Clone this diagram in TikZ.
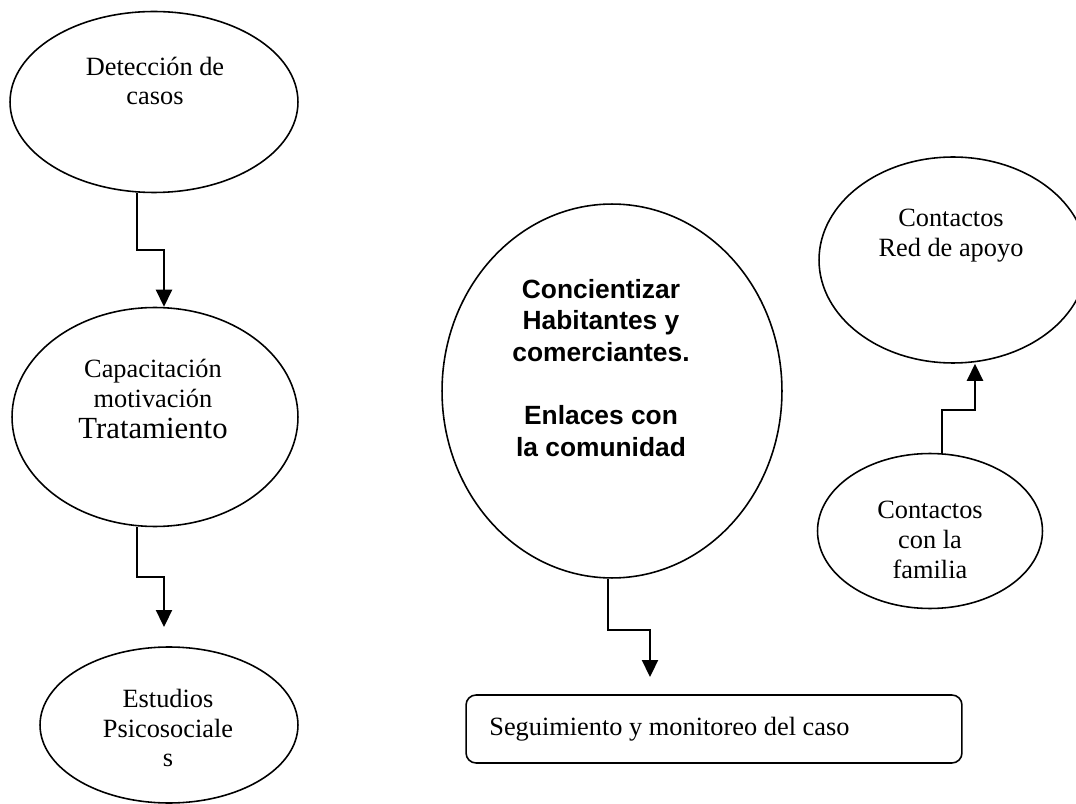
\documentclass[tikz,border=0pt]{standalone}
\usepackage{fontspec}
\setmainfont{Liberation Serif}
\newfontfamily\arialfont{Liberation Sans}
\usetikzlibrary{shapes.geometric, arrows.meta, calc, positioning}
\tikzset{
% ovals and boxes
oval/.style={ellipse, draw, line width=0.9pt, inner sep=0pt},
txt/.style={align=center, inner sep=0pt, font=\fontsize{15}{17}\selectfont},
boldtxt/.style={align=center, inner sep=0pt, font=\arialfont\bfseries\fontsize{15}{18}\selectfont},
% >=latex,
arr/.style={-{Triangle[width=0.32cm, length=0.34cm]}, line width=1.3pt},
}
\begin{document}
\begin{tikzpicture}[x=0.02cm, y=-0.02cm]
\useasboundingbox (0,0) rectangle (1076,804);
% Nodes
\node (e1) [oval, minimum width=5.76cm, minimum height=3.62cm] at (154,102) {};
\node (e2) [oval, minimum width=5.72cm, minimum height=4.38cm] at (155,417) {};
\node (e3) [oval, minimum width=5.16cm, minimum height=3.12cm] at (169,725) {};
\node (e4) [oval, minimum width=6.8cm, minimum height=7.48cm] at (612,391) {};
\node (e5) [oval, minimum width=5.36cm, minimum height=4.12cm] at (953,260) {};
\node (e6) [oval, minimum width=4.5cm, minimum height=3.1cm] at (930,531) {};
\node (box) [draw, rounded corners=0.2cm, line width=0.9pt, minimum width=9.92cm, minimum height=1.36cm] at (714,729) {};

\node (t1) [txt] at (155,81) {Detección de\\casos};
\node (t2) [txt] at (153,399) {Capacitación\\motivación\\[1pt]{\fontsize{17.5}{17}\selectfont Tratamiento}};
\node (t3) [txt] at (168,728) {Estudios\\Psicosociale\\s};
\node (t4) [boldtxt] at (601,368) {Concientizar\\Habitantes y\\comerciantes.\\[18pt]Enlaces con\\la comunidad};
\node (t5) [txt] at (951,236) {Contactos\\Red de apoyo};
\node (t6) [txt] at (930,540) {Contactos\\con la\\familia};
\node (t7) [txt, anchor=west] at (489,729) {Seguimiento y monitoreo del caso};

% Connectors
\draw [arr] ([xshift=-0.34cm]e1.south) |- (164,250) -- (164,0 |- e2.north);
\draw [arr] ([xshift=-0.36cm]e2.south) |- (164,577) -- (164,627);
\draw [arr] ([xshift=-0.08cm]e4.south) |- (650,630) -- (650,677);
\draw [arr] ([xshift=0.24cm]e6.north) |- (975,410) -- (975,0 |- e5.south);

\end{tikzpicture}
\end{document}
